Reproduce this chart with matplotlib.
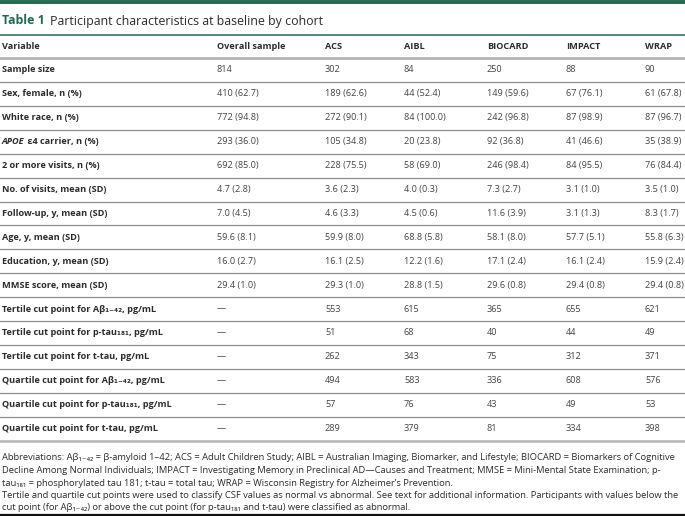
import matplotlib
matplotlib.use("Agg")
import matplotlib.pyplot as plt

FAM = ['Open Sans', 'DejaVu Sans']
GREEN = '#23694d'
TXT = '#2b2b2b'
VAL = '#444444'

title_bold = 'Table 1'
title_rest = 'Participant characteristics at baseline by cohort'

columns = ['Variable', 'Overall sample', 'ACS', 'AIBL', 'BIOCARD', 'IMPACT', 'WRAP']

row_labels = [
    'Sample size',
    'Sex, female, n (%)',
    'White race, n (%)',
    'APOE| ε4 carrier, n (%)',
    '2 or more visits, n (%)',
    'No. of visits, mean (SD)',
    'Follow-up, y, mean (SD)',
    'Age, y, mean (SD)',
    'Education, y, mean (SD)',
    'MMSE score, mean (SD)',
    'Tertile cut point for Aβ₁₋₄₂, pg/mL',
    'Tertile cut point for p-tau₁₈₁, pg/mL',
    'Tertile cut point for t-tau, pg/mL',
    'Quartile cut point for Aβ₁₋₄₂, pg/mL',
    'Quartile cut point for p-tau₁₈₁, pg/mL',
    'Quartile cut point for t-tau, pg/mL',
]

overall = ['814', '410 (62.7)', '772 (94.8)', '293 (36.0)', '692 (85.0)', '4.7 (2.8)',
           '7.0 (4.5)', '59.6 (8.1)', '16.0 (2.7)', '29.4 (1.0)', '—', '—', '—', '—', '—', '—']
acs = ['302', '189 (62.6)', '272 (90.1)', '105 (34.8)', '228 (75.5)', '3.6 (2.3)',
       '4.6 (3.3)', '59.9 (8.0)', '16.1 (2.5)', '29.3 (1.0)', '553', '51', '262', '494', '57', '289']
aibl = ['84', '44 (52.4)', '84 (100.0)', '20 (23.8)', '58 (69.0)', '4.0 (0.3)',
        '4.5 (0.6)', '68.8 (5.8)', '12.2 (1.6)', '28.8 (1.5)', '615', '68', '343', '583', '76', '379']
biocard = ['250', '149 (59.6)', '242 (96.8)', '92 (36.8)', '246 (98.4)', '7.3 (2.7)',
           '11.6 (3.9)', '58.1 (8.0)', '17.1 (2.4)', '29.6 (0.8)', '365', '40', '75', '336', '43', '81']
impact = ['88', '67 (76.1)', '87 (98.9)', '41 (46.6)', '84 (95.5)', '3.1 (1.0)',
          '3.1 (1.3)', '57.7 (5.1)', '16.1 (2.4)', '29.4 (0.8)', '655', '44', '312', '608', '49', '334']
wrap = ['90', '61 (67.8)', '87 (96.7)', '35 (38.9)', '76 (84.4)', '3.5 (1.0)',
        '8.3 (1.7)', '55.8 (6.3)', '15.9 (2.4)', '29.4 (0.8)', '621', '49', '371', '576', '53', '398']

footnote = [
    'Abbreviations: Aβ₁₋₄₂ = β-amyloid 1–42; ACS = Adult Children Study; AIBL = Australian Imaging, Biomarker, and Lifestyle; BIOCARD = Biomarkers of Cognitive',
    'Decline Among Normal Individuals; IMPACT = Investigating Memory in Preclinical AD—Causes and Treatment; MMSE = Mini-Mental State Examination; p-',
    'tau₁₈₁ = phosphorylated tau 181; t-tau = total tau; WRAP = Wisconsin Registry for Alzheimer\u2019s Prevention.',
    'Tertile and quartile cut points were used to classify CSF values as normal vs abnormal. See text for additional information. Participants with values below the',
    'cut point (for Aβ₁₋₄₂) or above the cut point (for p-tau₁₈₁ and t-tau) were classified as abnormal.',
]

W, H = 685, 516
fig = plt.figure(figsize=(W / 100, H / 100), dpi=100)
ax = fig.add_axes([0, 0, 1, 1])
ax.set_xlim(0, W)
ax.set_ylim(H, 0)
ax.axis('off')

col_x = [2, 217, 325, 404, 487, 566, 645]
fs = 6.6

# top bar and title
ax.plot([0, W], [1.5, 1.5], color=GREEN, lw=2.8, solid_capstyle='butt')
t = ax.text(2, 21, title_bold, color=GREEN, fontsize=8.9, fontweight='bold', family=FAM, va='center')
fig.canvas.draw()
bb = t.get_window_extent().transformed(ax.transData.inverted())
ax.text(bb.x1 + 5, 21, title_rest, color=TXT, fontsize=8.9, family=FAM, va='center')
ax.plot([0, W], [35, 35], color=GREEN, lw=1.1)

# header
for x, c in zip(col_x, columns):
    ax.text(x, 46.5, c, fontsize=fs, fontweight='bold', color=TXT, family=FAM, va='center')
ax.plot([0, W], [58, 58], color='#b4b4b4', lw=2.0)

row_y0, row_dy = 70, 23.9
data_cols = [overall, acs, aibl, biocard, impact, wrap]
for i, lab in enumerate(row_labels):
    y = row_y0 + i * row_dy
    if '|' in lab:
        a, b = lab.split('|')
        t = ax.text(col_x[0], y, a, fontsize=fs, fontweight='bold', style='italic', color=TXT,
                    family=FAM, va='center')
        fig.canvas.draw()
        bb = t.get_window_extent().transformed(ax.transData.inverted())
        ax.text(bb.x1, y, b, fontsize=fs, fontweight='bold', color=TXT, family=FAM, va='center')
    else:
        ax.text(col_x[0], y, lab, fontsize=fs, fontweight='bold', color=TXT, family=FAM, va='center')
    for x, vals in zip(col_x[1:], data_cols):
        ax.text(x, y, vals[i], fontsize=fs, color=VAL, family=FAM, va='center')
    ly = y + 12
    if i == len(row_labels) - 1:
        ax.plot([0, W], [ly, ly], color='#b4b4b4', lw=1.8)
    else:
        ax.plot([0, W], [ly, ly], color='#8f8f8f', lw=0.9)

# footnote
for k, line in enumerate(footnote):
    ax.text(2, 458 + k * 12.5, line, fontsize=6.72, color=TXT, family=FAM, va='center')
ax.plot([0, W], [515, 515], color='#111111', lw=1.6)

fig.savefig('out.png', dpi=100)
